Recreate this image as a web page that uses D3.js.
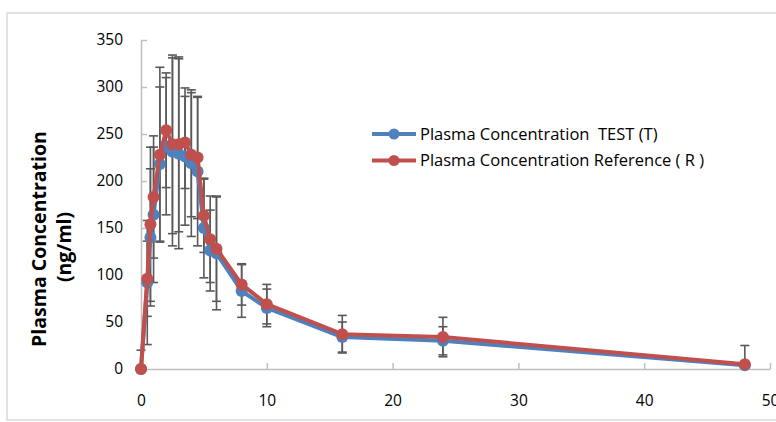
<!DOCTYPE html>
<html>
<head>
<meta charset="utf-8">
<script src="https://cdn.jsdelivr.net/npm/d3@7"></script>
<style>
  body { margin: 0; background: #fff; }
  text { font-family: "Open Sans", "Liberation Sans", sans-serif; fill: #000; white-space: pre; }
</style>
</head>
<body>
<script>
// time points (h)
var times = [0, 0.5, 0.75, 1, 1.5, 2, 2.5, 3, 3.5, 4, 4.5, 5, 5.5, 6, 8, 10, 16, 24, 48];
// mean plasma concentration, test
var testMean = [0, 92, 140, 164, 218, 237, 231, 229, 226, 219, 210, 150, 126, 123, 83, 65, 34, 30, 4];
var testSd   = [20, 66, 73, 72, 82, 73, 100, 101, 73, 78, 79, 53, 43, 60, 28, 20, 16, 15, 0];
// mean plasma concentration, reference
var refMean = [0, 96, 154, 183, 228, 254, 239, 239, 241, 228, 225, 163, 138, 128, 90, 69, 37, 34, 5];
var refSd   = [0, 40, 82, 65, 93, 61, 95, 93, 49, 66, 65, 39, 46, 56, 22, 21, 20, 21, 20];

var xTicks = [0, 10, 20, 30, 40, 50];
var yTicks = [0, 50, 100, 150, 200, 250, 300, 350];
var legendLabels = ["Plasma Concentration  TEST (T)", "Plasma Concentration Reference ( R )"];

var width = 776, height = 422;

var svg = d3.select("body").append("svg")
    .attr("width", width)
    .attr("height", height);

// chart frame
svg.append("rect")
    .attr("x", 7).attr("y", 13)
    .attr("width", 780).attr("height", 407)
    .attr("fill", "#fff")
    .attr("stroke", "#d9d9d9")
    .attr("stroke-width", 1.5);

var x = d3.scaleLinear().domain([0, 50]).range([141, 770]);
var y = d3.scaleLinear().domain([0, 350]).range([369, 40]);

// axes (excel style, inside ticks, grey)
var xAxis = svg.append("g")
    .attr("transform", "translate(0," + y(0) + ")")
    .call(d3.axisBottom(x).tickValues(xTicks).tickSizeInner(-6).tickSizeOuter(0).tickPadding(26));
var yAxis = svg.append("g")
    .attr("transform", "translate(" + x(0) + ",0)")
    .call(d3.axisLeft(y).tickValues(yTicks).tickSizeInner(-6).tickSizeOuter(0).tickPadding(18));

[xAxis, yAxis].forEach(function(a) {
  a.select(".domain").attr("stroke", "#bfbfbf").attr("stroke-width", 1.5);
  a.selectAll(".tick line").attr("stroke", "#bfbfbf").attr("stroke-width", 1.5);
  a.selectAll(".tick text")
    .attr("font-family", "'Open Sans', sans-serif")
    .attr("font-size", 15.5)
    .attr("fill", "#000");
});

// y axis title
svg.append("text")
    .attr("transform", "translate(46,239) rotate(-90)")
    .attr("text-anchor", "middle")
    .attr("font-size", 19.5)
    .attr("font-weight", "bold")
    .text("Plasma Concentration");
svg.append("text")
    .attr("transform", "translate(71,247) rotate(-90)")
    .attr("text-anchor", "middle")
    .attr("font-size", 19.5)
    .attr("font-weight", "bold")
    .text("(ng/ml)");

var series = [
  { mean: testMean, sd: testSd, color: "#4f81bd" },
  { mean: refMean, sd: refSd, color: "#c0504d" }
];

// error bars
var clampY = function(v) { return y(Math.max(0, Math.min(350, v))); };
series.forEach(function(s) {
  var g = svg.append("g").attr("stroke", "#595959").attr("stroke-width", 1.6);
  times.forEach(function(t, i) {
    if (!s.sd[i]) return;
    var hi = s.mean[i] + s.sd[i], lo = s.mean[i] - s.sd[i];
    g.append("line")
      .attr("x1", x(t)).attr("x2", x(t))
      .attr("y1", clampY(hi)).attr("y2", clampY(lo));
    [hi, lo].forEach(function(v) {
      if (v < 0 || v > 350) return;
      g.append("line")
        .attr("x1", x(t) - 4.5).attr("x2", x(t) + 4.5)
        .attr("y1", y(v)).attr("y2", y(v));
    });
  });
});

var line = d3.line()
    .x(function(d, i) { return x(times[i]); })
    .y(function(d) { return y(d); });

series.forEach(function(s) {
  svg.append("path")
    .datum(s.mean)
    .attr("d", line)
    .attr("fill", "none")
    .attr("stroke", s.color)
    .attr("stroke-width", 4)
    .attr("stroke-linejoin", "round");
  svg.append("g").selectAll("circle")
    .data(s.mean)
    .enter().append("circle")
    .attr("cx", function(d, i) { return x(times[i]); })
    .attr("cy", function(d) { return y(d); })
    .attr("r", 6)
    .attr("fill", s.color);
});

// legend
var legend = svg.append("g");
series.forEach(function(s, i) {
  var ly = 134 + i * 26.5;
  legend.append("line")
    .attr("x1", 372).attr("x2", 416)
    .attr("y1", ly).attr("y2", ly)
    .attr("stroke", s.color).attr("stroke-width", 4);
  legend.append("circle")
    .attr("cx", 394).attr("cy", ly).attr("r", 5.5)
    .attr("fill", s.color);
  legend.append("text")
    .attr("x", 420).attr("y", ly + 5.5)
    .attr("font-size", 16.5)
    .text(legendLabels[i]);
});
</script>
</body>
</html>
